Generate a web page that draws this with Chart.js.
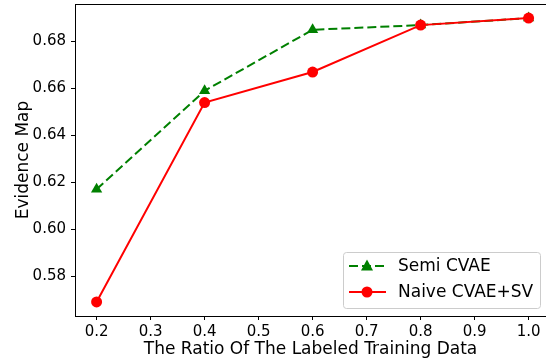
<!DOCTYPE html>
<html>
<head>
<meta charset="utf-8">
<script src="https://cdn.jsdelivr.net/npm/chart.js@4.4.0/dist/chart.umd.min.js"></script>
<style>
html,body{margin:0;padding:0;background:#fff;}
#wrap{width:546px;height:362px;}
</style>
</head>
<body>
<div id="wrap"><canvas id="c" width="546" height="362"></canvas></div>
<script>
const ratios = [0.2, 0.4, 0.6, 0.8, 1.0];
const semiCVAE = [0.617, 0.659, 0.685, 0.687, 0.690];
const naiveCVAESV = [0.569, 0.654, 0.667, 0.687, 0.690];
const xTicks = [0.2, 0.3, 0.4, 0.5, 0.6, 0.7, 0.8, 0.9, 1.0];
const yTicks = [0.58, 0.60, 0.62, 0.64, 0.66, 0.68];
const seriesNames = ['Semi CVAE', 'Naive CVAE+SV'];
const xTitle = 'The Ratio Of The Labeled Training Data';
const yTitle = 'Evidence Map';

const FONT = 'DejaVu Sans';
const GREEN = '#008000';
const RED = '#ff0000';
const DASH = [9, 4];
const LW = 2;
const AREA = {left: 75, right: 546, top: 4, bottom: 316};

const toPts = (xs, ys) => xs.map((x, i) => ({x: x, y: ys[i]}));

const fixedAreaPlugin = {
  id: 'fixedArea',
  afterLayout(chart) {
    const a = chart.chartArea;
    Object.assign(a, AREA, {width: AREA.right - AREA.left, height: AREA.bottom - AREA.top});
    const x = chart.scales.x, y = chart.scales.y;
    Object.assign(x, {left: AREA.left, right: AREA.right, width: AREA.right - AREA.left,
      top: AREA.bottom, bottom: chart.height, height: chart.height - AREA.bottom});
    Object.assign(y, {left: 0, right: AREA.left, width: AREA.left,
      top: AREA.top, bottom: AREA.bottom, height: AREA.bottom - AREA.top});
    x.configure();
    y.configure();
  }
};

const framePlugin = {
  id: 'frame',
  afterDraw(chart) {
    const ctx = chart.ctx;
    const a = chart.chartArea;
    ctx.save();
    ctx.strokeStyle = '#000';
    ctx.lineWidth = 1;
    ctx.beginPath();
    ctx.moveTo(a.left, a.top + 0.5);
    ctx.lineTo(a.right, a.top + 0.5);
    ctx.stroke();
    // legend
    const bx = 343.5, by = 252.5, bw = 197, bh = 56, r = 3;
    ctx.fillStyle = 'rgba(255,255,255,0.8)';
    ctx.strokeStyle = '#cccccc';
    ctx.beginPath();
    ctx.moveTo(bx + r, by);
    ctx.lineTo(bx + bw - r, by);
    ctx.quadraticCurveTo(bx + bw, by, bx + bw, by + r);
    ctx.lineTo(bx + bw, by + bh - r);
    ctx.quadraticCurveTo(bx + bw, by + bh, bx + bw - r, by + bh);
    ctx.lineTo(bx + r, by + bh);
    ctx.quadraticCurveTo(bx, by + bh, bx, by + bh - r);
    ctx.lineTo(bx, by + r);
    ctx.quadraticCurveTo(bx, by, bx + r, by);
    ctx.closePath();
    ctx.fill();
    ctx.stroke();
    const entries = [
      {name: seriesNames[0], color: GREEN, dash: DASH, shape: 'tri', y: 266},
      {name: seriesNames[1], color: RED, dash: [], shape: 'circle', y: 292}
    ];
    entries.forEach(e => {
      ctx.strokeStyle = e.color;
      ctx.fillStyle = e.color;
      ctx.lineWidth = LW;
      ctx.setLineDash(e.dash);
      ctx.beginPath();
      ctx.moveTo(349, e.y);
      ctx.lineTo(386, e.y);
      ctx.stroke();
      ctx.setLineDash([]);
      ctx.beginPath();
      if (e.shape === 'circle') {
        ctx.arc(367, e.y, 5.5, 0, Math.PI * 2);
      } else {
        ctx.moveTo(367, e.y - 6.5);
        ctx.lineTo(373, e.y + 4.5);
        ctx.lineTo(361, e.y + 4.5);
        ctx.closePath();
      }
      ctx.fill();
      ctx.fillStyle = '#000';
      ctx.font = '17px "' + FONT + '"';
      ctx.textBaseline = 'middle';
      ctx.textAlign = 'left';
      ctx.fillText(e.name, 398, e.y + 1);
    });
    ctx.restore();
  }
};

new Chart(document.getElementById('c'), {
  type: 'line',
  data: {
    datasets: [
      {
        label: seriesNames[0],
        data: toPts(ratios, semiCVAE),
        borderColor: GREEN,
        backgroundColor: GREEN,
        borderWidth: LW,
        borderDash: DASH,
        pointStyle: 'triangle',
        pointRadius: 6.5,
        pointBorderWidth: 0,
        pointBackgroundColor: GREEN,
        tension: 0,
        order: 2
      },
      {
        label: seriesNames[1],
        data: toPts(ratios, naiveCVAESV),
        borderColor: RED,
        backgroundColor: RED,
        borderWidth: LW,
        pointStyle: 'circle',
        pointRadius: 5.5,
        pointBorderWidth: 0,
        pointBackgroundColor: RED,
        tension: 0,
        order: 1
      }
    ]
  },
  options: {
    responsive: false,
    animation: false,
    layout: {padding: {top: 4, right: 0, left: 0, bottom: 0}},
    plugins: {legend: {display: false}, tooltip: {enabled: false}},
    scales: {
      x: {
        type: 'linear',
        min: 0.16,
        max: 1.0322,
        afterBuildTicks: s => { s.ticks = xTicks.map(v => ({value: v})); },
        afterFit: s => { s.height = 46; s.paddingLeft = 0; s.paddingRight = 0; },
        ticks: {
          color: '#000',
          font: {family: FONT, size: 15},
          padding: 3,
          maxRotation: 0,
          autoSkip: false,
          callback: v => Number(v).toFixed(1)
        },
        grid: {drawOnChartArea: false, drawTicks: true, tickLength: 4, color: '#000'},
        border: {display: true, color: '#000', width: 1},
        title: {display: true, text: xTitle, color: '#000', font: {family: FONT, size: 17}, padding: {top: 0, bottom: 2}}
      },
      y: {
        type: 'linear',
        min: 0.5630,
        max: 0.6960,
        afterBuildTicks: s => { s.ticks = yTicks.map(v => ({value: v})); },
        afterFit: s => { s.width = 75; s.paddingTop = 0; s.paddingBottom = 0; },
        ticks: {
          color: '#000',
          font: {family: FONT, size: 15},
          padding: 5,
          autoSkip: false,
          callback: v => Number(v).toFixed(2)
        },
        grid: {drawOnChartArea: false, drawTicks: true, tickLength: 4, color: '#000'},
        border: {display: true, color: '#000', width: 1},
        title: {display: true, text: yTitle, color: '#000', font: {family: FONT, size: 17}, padding: {top: 13, bottom: 0}}
      }
    }
  },
  plugins: [fixedAreaPlugin, framePlugin]
});
</script>
</body>
</html>
